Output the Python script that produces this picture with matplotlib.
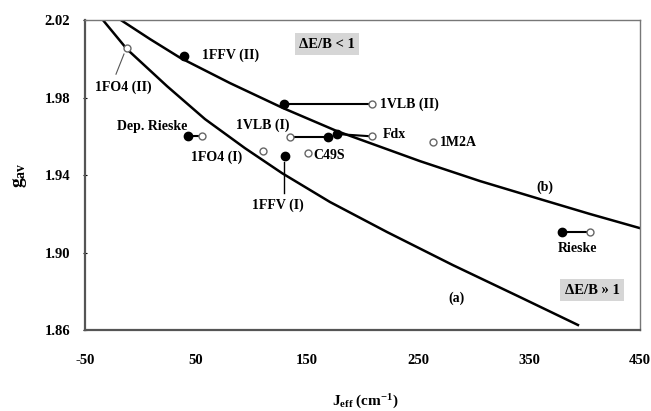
import matplotlib.pyplot as plt

plt.rcParams["font.family"] = ["Liberation Serif", "DejaVu Serif"]
plt.rcParams["font.weight"] = "bold"
plt.rcParams["axes.unicode_minus"] = False
plt.rcParams["mathtext.fontset"] = "custom"
plt.rcParams["mathtext.rm"] = "Liberation Serif:bold"
plt.rcParams["mathtext.bf"] = "Liberation Serif:bold"
plt.rcParams["mathtext.it"] = "Liberation Serif:bold"

# ---------------------------------
# Data
# ---------------------------------

# curve (a): lower theoretical curve
curve_a_j = [-33.8, -23.0, -12.2, 23.9, 58.1, 94.1, 127.5, 170.7, 222.1, 281.5, 341.9, 394.1]
curve_a_g = [2.020, 2.0125, 2.0050, 1.9859, 1.9689, 1.9539, 1.9410, 1.9261, 1.9106, 1.8935, 1.8770, 1.8626]

# curve (b): upper theoretical curve
curve_b_j = [-17.6, 8.6, 35.6, 80.6, 128.4, 177.0, 251.8, 305.9, 359.9, 405.0, 450.0]
curve_b_g = [2.020, 2.0102, 2.0006, 1.9875, 1.9746, 1.9627, 1.9472, 1.9369, 1.9276, 1.9199, 1.9126]

# pairs: filled (J, g) -> open (J, g)
pair_names = ["1VLB (II)", "1VLB (I)", "Fdx", "Dep. Rieske", "Rieske"]
pair_filled_j = [129, 169, 177, 43, 380]
pair_filled_g = [1.9766, 1.9596, 1.9612, 1.960, 1.9106]
pair_open_j = [208.5, 135, 208.5, 55, 405]
pair_open_g = [1.9766, 1.9596, 1.960, 1.960, 1.9106]

# single points
filled_names = ["1FFV (II)", "1FFV (I)"]
filled_j = [39, 130]
filled_g = [2.0014, 1.950]

open_names = ["1FO4 (II)", "1FO4 (I)", "C49S", "1M2A"]
open_j = [-12, 110, 151, 263.5]
open_g = [2.0055, 1.9524, 1.9514, 1.957]

# labels: text, J, g, horizontal alignment
labels = [
    ("1FO4 (II)", -15.8, 1.9854, "center"),
    ("1FFV (II)", 81.5, 2.002, "center"),
    ("Dep. Rieske", 10.4, 1.9653, "center"),
    ("1VLB (I)", 110.4, 1.9658, "center"),
    ("1FO4 (I)", 68.9, 1.9493, "center"),
    ("1FFV (I)", 123.9, 1.9245, "center"),
    ("C49S", 156, 1.9503, "left"),
    ("1VLB (II)", 215.8, 1.9766, "left"),
    ("Fdx", 218.5, 1.9607, "left"),
    ("1M2A", 269.8, 1.957, "left"),
    ("Rieske", 394, 1.9023, "center"),
    ("(b)", 364.4, 1.9338, "center"),
    ("(a)", 285, 1.8765, "center"),
]

x_ticks = [-50, 50, 150, 250, 350, 450]
y_ticks = [1.86, 1.90, 1.94, 1.98, 2.02]

# ---------------------------------
# Figure
# ---------------------------------

fig = plt.figure(figsize=(6.51, 4.11), dpi=100)
ax = fig.add_axes([0.1306, 0.197, 0.8525, 0.754])

ax.plot(curve_a_j, curve_a_g, color="black", lw=1.8, zorder=2)
ax.plot(curve_b_j, curve_b_g, color="black", lw=1.8, zorder=2)

for i in range(len(pair_names)):
    ax.plot([pair_filled_j[i], pair_open_j[i]],
            [pair_filled_g[i], pair_open_g[i]],
            color="black", lw=1.5, zorder=3)

ax.plot(pair_open_j, pair_open_g, "o", ms=5, mfc="white", mec="#666666", mew=1, zorder=4)
ax.plot(open_j, open_g, "o", ms=5, mfc="white", mec="#666666", mew=1, zorder=4)
ax.plot(pair_filled_j, pair_filled_g, "o", ms=6, color="black", zorder=5)
ax.plot(filled_j, filled_g, "o", ms=6, color="black", zorder=5)

# leader lines
ax.plot([-14.9, -22.1], [2.0025, 1.9921], color="#555555", lw=0.8)
ax.plot([129, 129], [1.9467, 1.9307], color="black", lw=1.0)

for text, xj, yg, ha in labels:
    ax.text(xj, yg, text, ha=ha, va="center", fontsize=10, fontweight="bold")

box = dict(facecolor="#d6d6d6", edgecolor="none", pad=3)
ax.text(168, 2.0076, "\u0394E/B < 1", ha="center", va="center",
        fontsize=10.5, fontweight="bold", bbox=box)
ax.text(406.8, 1.8806, "\u0394E/B \u00bb 1", ha="center", va="center",
        fontsize=10.5, fontweight="bold", bbox=box)

ax.set_xlim(-50, 450)
ax.set_ylim(1.86, 2.02)
ax.set_xticks(x_ticks)
ax.set_yticks(y_ticks)
ax.set_yticklabels(["%.2f" % v for v in y_ticks])
ax.tick_params(axis="x", length=0, pad=17, labelsize=10.5)
ax.tick_params(axis="y", length=3, direction="inout", pad=9, labelsize=10.5)

for side in ["left", "bottom"]:
    ax.spines[side].set_linewidth(1.6)
    ax.spines[side].set_color("#555555")
for side in ["top", "right"]:
    ax.spines[side].set_linewidth(1.0)
    ax.spines[side].set_color("#777777")

fig.text(0.031, 0.574, r"$\mathbf{g}_{\mathbf{av}}$", rotation=90,
         ha="center", va="center", fontsize=14)
fig.text(0.561, 0.022, r"$\mathbf{J}_{\mathbf{eff}}$ (cm$^{-1}$)",
         ha="center", va="center", fontsize=11, fontweight="bold")

fig.savefig("out.png", dpi=100)
